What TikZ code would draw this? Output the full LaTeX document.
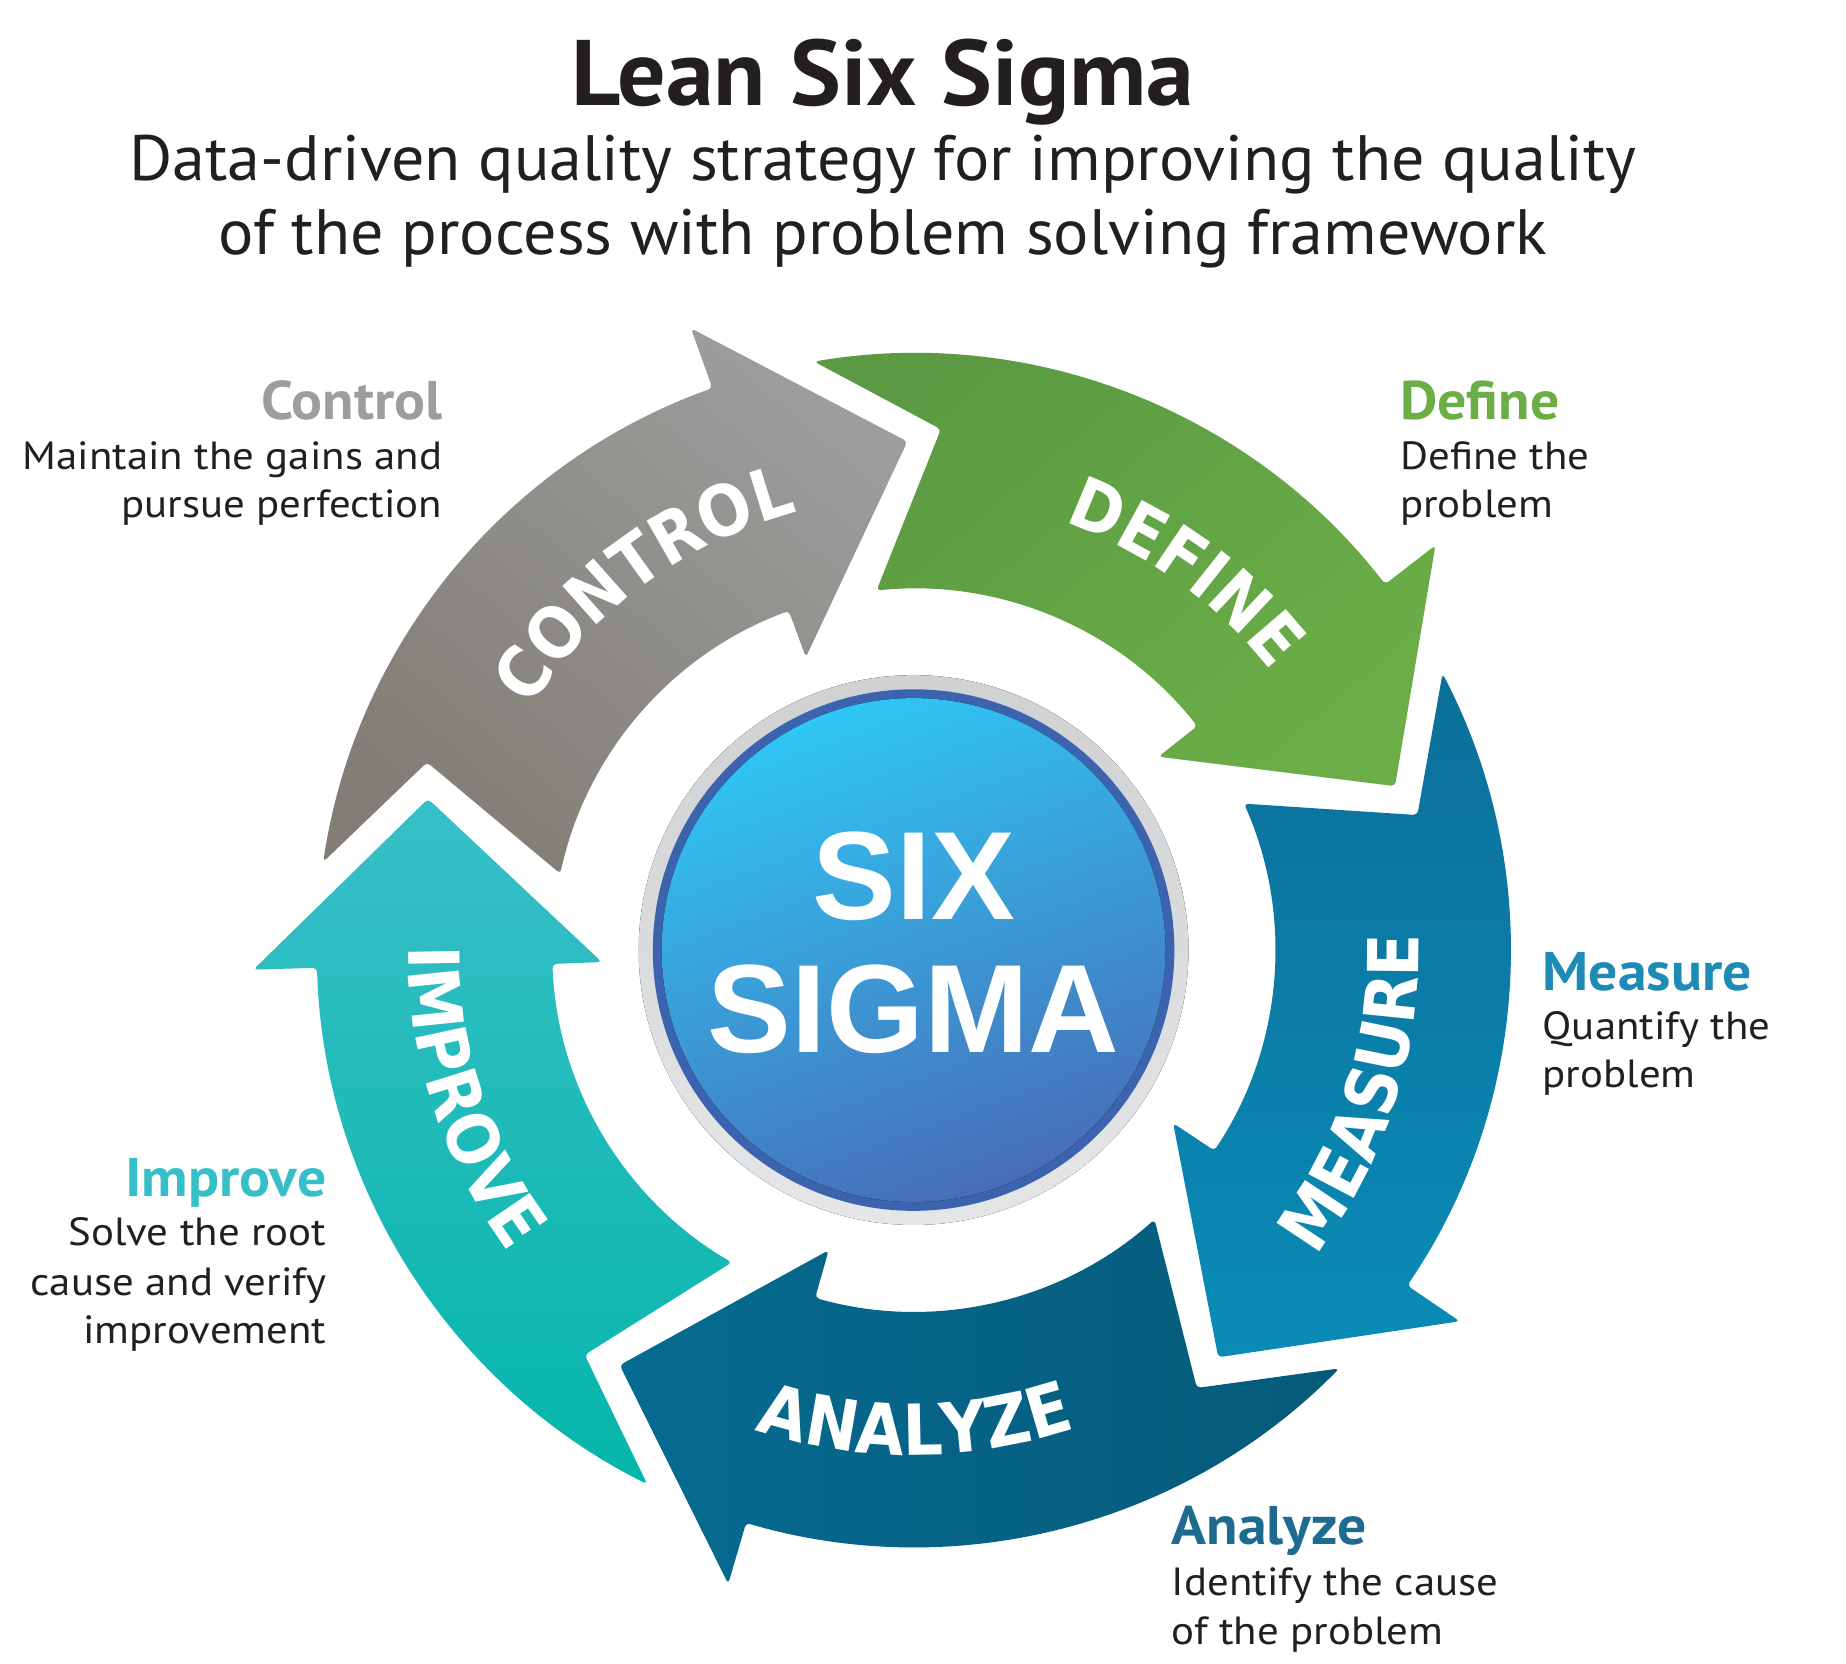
\documentclass[tikz,border=0pt]{standalone}
\usepackage{fontspec}
\setmainfont{PT Sans}[FakeStretch=1.03]
\newfontfamily\notefam{PT Sans}[FakeStretch=1.09]
\newfontfamily\headfam{PT Sans}[FakeStretch=1.06]
\newfontfamily\arialfam{Liberation Sans}
\newfontfamily\ringfam{DejaVu Sans}[FakeStretch=0.9]
\usetikzlibrary{calc,decorations.text}

\definecolor{Ink}    {RGB}{35, 31, 32}
\definecolor{CtrlL}  {RGB}{156,157,156}
\definecolor{CtrlM}  {RGB}{152,153,151}
\definecolor{CtrlD}  {RGB}{130,125,118}
\definecolor{CtrlT}  {RGB}{155,157,158}
\definecolor{DefL}   {RGB}{107,174, 72}
\definecolor{DefD}   {RGB}{ 91,154, 66}
\definecolor{DefT}   {RGB}{106,174, 69}
\definecolor{MeasL}  {RGB}{ 10,140,183}
\definecolor{MeasD}  {RGB}{ 11,111,153}
\definecolor{MeasT}  {RGB}{ 30,139,182}
\definecolor{AnaL}   {RGB}{  6,107,145}
\definecolor{AnaD}   {RGB}{  6, 90,122}
\definecolor{AnaT}   {RGB}{ 30,107,143}
\definecolor{ImpL}   {RGB}{ 56,191,200}
\definecolor{ImpD}   {RGB}{  5,182,170}
\definecolor{ImpT}   {RGB}{ 55,191,200}
\definecolor{HubL}   {RGB}{ 47,198,244}
\definecolor{HubM}   {RGB}{ 66,160,220}
\definecolor{HubD}   {RGB}{ 71,110,183}
\definecolor{HubRim} {RGB}{ 59, 99,174}
\definecolor{RingL}  {RGB}{229,230,231}
\definecolor{RingD}  {RGB}{207,209,211}

\newcommand{\titlefont}{\fontsize{45}{50}\selectfont\bfseries}
\newcommand{\subfont}{\fontsize{31}{36}\selectfont}
\newcommand{\headfont}{\headfam\fontsize{26.3}{30}\selectfont\bfseries}
\newcommand{\bodyfont}{\notefam\fontsize{19}{23}\selectfont}
\newcommand{\sigmafont}{\arialfam\fontsize{60.7}{64}\selectfont\bfseries}
\newcommand{\ringfont}{\ringfam\fontsize{34}{34}\selectfont\bfseries}

% one arrow of the ring, #1 = angle of its tip
\newcommand{\ringarrow}[2]{%
  \path[#2] (#1:432) -- ({#1+19}:561) -- ({#1+19}:507)
    arc[start angle={#1+19}, end angle={#1+80.8}, radius=507]
    -- ({#1+68.2}:443) -- ({#1+77.1}:307)
    arc[start angle={#1+77.1}, end angle={#1+19.5}, radius=307]
    -- ({#1+19.5}:265) -- cycle;}

\begin{document}
\begin{tikzpicture}[x=0.02cm,y=0.02cm,
    every node/.style={inner sep=0pt},
    headR/.style={anchor=base east,font=\headfont},
    headL/.style={anchor=base west,font=\headfont},
    bodyR/.style={anchor=base east,font=\bodyfont,text=Ink},
    bodyL/.style={anchor=base west,font=\bodyfont,text=Ink},
    ringtext/.style={decorate,decoration={text along path,
        text={|\ringfont|#1},text color=white,text align=center}}]
  \useasboundingbox (0,0) rectangle (1568,1413);
  \coordinate (C) at (776,606);

  % title
  \node[anchor=base,font=\titlefont,text=Ink] (title) at (750,1323) {Lean Six Sigma};
  \node[anchor=base,font=\subfont,text=Ink] (subA) at (750,1260)
    {Data-driven quality strategy for improving the quality};
  \node[anchor=base,font=\subfont,text=Ink] (subB) at (750,1196.4)
    {of the process with problem solving framework};

  % the five arrows
  \begin{scope}[shift={(C)},rounded corners=2pt]
    \ringarrow{90.7}{top color=CtrlL,middle color=CtrlM,bottom color=CtrlD,shading angle=-40}
    \ringarrow{18.8}{top color=DefD,middle color=DefL,bottom color=DefL,shading angle=40}
    \ringarrow{-53.2}{top color=MeasD,middle color=MeasL,bottom color=MeasL}
    \ringarrow{234.7}{left color=AnaL,middle color=AnaL,right color=AnaD}
    \ringarrow{162.7}{top color=ImpL,middle color=ImpL,bottom color=ImpD}
  \end{scope}

  % labels on the arrows
  \begin{scope}[shift={(C)}]
    \path[ringtext=CONTROL] (161.2:385) arc[start angle=161.2,end angle=91.2,radius=385];
    \path[ringtext=DEFINE] (89.3:385) arc[start angle=89.3,end angle=19.3,radius=385];
    \path[ringtext=MEASURE] (-52.7:429) arc[start angle=-52.7,end angle=17.3,radius=429];
    \path[ringtext=ANALYZE] (235.2:429) arc[start angle=235.2,end angle=305.2,radius=429];
    \path[ringtext=IMPROVE] (163.2:429) arc[start angle=163.2,end angle=233.2,radius=429];
  \end{scope}

  % hub
  \fill[top color=RingD,bottom color=RingL] (C) circle[radius=233.5];
  \fill[HubRim] (C) circle[radius=221.5];
  \fill[top color=HubL,middle color=HubM,bottom color=HubD,shading angle=20]
    (C) circle[radius=214];
  \node[anchor=base,font=\sigmafont,text=white] (six) at (776,632) {SIX};
  \node[anchor=base,font=\sigmafont,text=white] (sigma) at (776,519.4) {SIGMA};

  % side notes
  \node[headR,text=CtrlT] (ctrlH) at (376,1056.3) {Control};
  \node[bodyR] (ctrlA) at (376,1014.4) {Maintain the gains and};
  \node[bodyR] (ctrlB) at (376,973.6) {pursue perfection};

  \node[headL,text=DefT] (defH) at (1189,1056.3) {Define};
  \node[bodyL] (defA) at (1189,1014.4) {Define the};
  \node[bodyL] (defB) at (1189,973.3) {problem};

  \node[headL,text=MeasT] (measH) at (1310,572) {Measure};
  \node[bodyL] (measA) at (1310,530.4) {Quantify the};
  \node[bodyL] (measB) at (1310,489) {problem};

  \node[headR,text=ImpT] (impH) at (277.5,397) {Improve};
  \node[bodyR] (impA) at (277.5,354.7) {Solve the root};
  \node[bodyR] (impB) at (277.5,313) {cause and verify};
  \node[bodyR] (impC) at (277.5,271.4) {improvement};

  \node[headL,text=AnaT] (anaH) at (995,101) {Analyze};
  \node[bodyL] (anaA) at (995,57.6) {Identify the cause};
  \node[bodyL] (anaB) at (995,16) {of the problem};
\end{tikzpicture}
\end{document}
